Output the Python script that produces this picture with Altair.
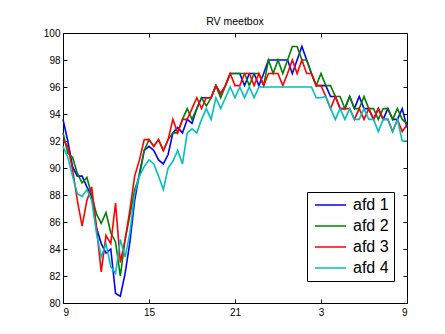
import altair as alt
import pandas as pd

# time grid (hours since 09:00, 20-minute steps over 24 h)
hours = [9 + i / 3 for i in range(73)]

series_names = ["afd 1", "afd 2", "afd 3", "afd 4"]
series_colors = ["#0000ff", "#008000", "#ff0000", "#00bfbf"]
x_ticks = [9, 15, 21, 27, 33]
y_ticks = [80, 82, 84, 86, 88, 90, 92, 94, 96, 98, 100]

afd1 = [93.6, 92.0, 90.1, 89.4, 89.4, 88.6, 87.9, 85.6, 84.4, 83.7, 84.0, 80.7, 80.5, 82.2, 84.5, 87.6, 89.6, 91.3, 91.6,
        91.3, 90.6, 90.3, 91.0, 92.6, 93.0, 92.6, 93.6, 93.3, 94.4, 95.2, 95.2, 95.2, 96.1, 95.5, 96.1, 97.0, 97.0,
        97.0, 96.1, 97.0, 97.0, 96.1, 97.0, 98.0, 98.0, 98.0, 98.0, 98.0, 97.0, 98.0, 99.0, 98.0, 97.0, 96.1, 96.1,
        96.1, 95.3, 95.3, 94.4, 94.4, 95.3, 94.4, 95.3, 94.4, 94.4, 93.6, 94.4, 93.6, 94.4, 93.6, 93.6, 94.4, 93.0]
afd2 = [92.6, 91.1, 90.8, 89.6, 88.9, 89.3, 88.0, 86.6, 85.9, 86.7, 85.2, 84.5, 82.0, 84.7, 86.5, 88.4, 89.4, 91.3, 92.1,
        91.6, 92.1, 91.3, 92.1, 92.6, 92.6, 93.6, 94.4, 93.6, 94.4, 95.2, 94.6, 95.2, 96.1, 95.2, 96.1, 97.0, 97.0,
        97.0, 97.0, 96.1, 97.0, 97.0, 96.1, 98.0, 97.0, 98.0, 97.0, 98.0, 99.0, 99.0, 98.0, 98.0, 97.0, 96.1, 97.0,
        96.1, 96.1, 95.3, 95.3, 94.4, 95.3, 94.4, 94.4, 95.3, 94.4, 94.4, 93.6, 94.4, 94.4, 93.6, 94.4, 93.6, 93.3]
afd3 = [92.1, 91.6, 89.9, 87.6, 85.7, 87.6, 88.6, 85.6, 82.3, 85.0, 84.4, 87.4, 83.0, 84.7, 86.9, 89.4, 90.6, 92.1, 92.1,
        91.6, 92.1, 91.3, 92.1, 93.6, 92.6, 93.6, 93.6, 94.4, 95.2, 94.4, 95.2, 95.2, 96.1, 95.5, 96.1, 97.0, 96.1,
        96.1, 97.0, 97.0, 96.1, 97.0, 96.1, 97.0, 97.0, 97.0, 96.1, 97.0, 98.0, 97.0, 98.0, 97.0, 97.0, 96.1, 96.1,
        95.3, 94.4, 95.3, 94.4, 94.4, 94.4, 93.6, 94.4, 93.6, 94.4, 93.6, 94.4, 93.6, 93.6, 92.7, 93.6, 92.7, 93.2]
afd4 = [91.6, 90.8, 89.4, 88.1, 87.9, 88.4, 87.6, 85.2, 83.4, 84.4, 82.7, 82.2, 84.7, 83.4, 85.2, 88.1, 89.4, 90.1, 90.6,
        90.3, 89.4, 88.4, 90.0, 90.5, 91.3, 90.3, 92.6, 92.9, 92.6, 93.6, 94.4, 93.6, 95.2, 94.4, 95.2, 96.0, 95.2,
        96.0, 95.2, 96.0, 95.2, 96.0, 96.0, 96.0, 96.0, 96.0, 96.0, 96.0, 96.0, 96.0, 96.0, 96.0, 96.0, 95.2, 95.2,
        95.3, 94.4, 93.6, 94.4, 93.6, 94.4, 93.6, 93.6, 94.4, 93.6, 93.6, 92.7, 93.6, 93.6, 92.7, 93.6, 92.0, 92.0]

rows = []
for name, vals in zip(series_names, [afd1, afd2, afd3, afd4]):
    for h, v in zip(hours, vals):
        rows.append({"t": h, "rv": v, "afd": name})
df = pd.DataFrame(rows)

FONT = "Liberation Sans"
xscale = alt.Scale(domain=[9, 33], nice=False, zero=False)
yscale = alt.Scale(domain=[80, 100], nice=False, zero=False)
label_expr = "'' + (datum.value % 24)"

base = alt.Chart(df)

lines = base.mark_line(strokeWidth=1.6).encode(
    x=alt.X("t:Q", scale=xscale,
            axis=alt.Axis(orient="bottom", values=x_ticks, labelExpr=label_expr, tickSize=0, title=None,
                          grid=False, domainColor="black", labelPadding=4, labelFontSize=10,
                          labelFont=FONT, labelColor="black")),
    y=alt.Y("rv:Q", scale=yscale,
            axis=alt.Axis(orient="left", values=y_ticks, tickSize=0, title=None, grid=False,
                          domainColor="black", labelPadding=3, labelFontSize=10,
                          labelFont=FONT, labelColor="black")),
    color=alt.Color("afd:N", scale=alt.Scale(domain=series_names, range=series_colors),
                    legend=alt.Legend(orient="none", legendX=244, legendY=159, title=None,
                                      strokeColor="black", fillColor="white", padding=5,
                                      symbolType="M-1,0H5.2", symbolSize=100, symbolStrokeWidth=1.5,
                                      labelFontSize=16, labelFont=FONT, labelColor="black",
                                      rowPadding=5, labelOffset=25, cornerRadius=0)),
)

ticks_a = base.mark_line(opacity=0).encode(
    x=alt.X("t:Q", scale=xscale,
            axis=alt.Axis(orient="bottom", values=x_ticks, labels=False, domain=False, tickSize=4,
                          offset=-4, title=None, grid=False, tickColor="black")),
    y=alt.Y("rv:Q", scale=yscale,
            axis=alt.Axis(orient="left", values=y_ticks, labels=False, domain=False, tickSize=4,
                          offset=-4, title=None, grid=False, tickColor="black")),
    detail="afd:N",
)

ticks_b = base.mark_line(opacity=0).encode(
    x=alt.X("t:Q", scale=xscale,
            axis=alt.Axis(orient="top", values=x_ticks, labels=False, domain=False, tickSize=4,
                          offset=-4, title=None, grid=False, tickColor="black")),
    y=alt.Y("rv:Q", scale=yscale,
            axis=alt.Axis(orient="right", values=y_ticks, labels=False, domain=False, tickSize=4,
                          offset=-4, title=None, grid=False, tickColor="black")),
    detail="afd:N",
)

chart = alt.layer(lines, ticks_a, ticks_b).resolve_axis(
    x="independent", y="independent"
).properties(
    width=344,
    height=270,
    title=alt.Title("RV meetbox", fontSize=10.5, font=FONT, fontWeight="normal", offset=1, color="black"),
    autosize=alt.AutoSizeParams(type="none"),
    padding={"left": 55, "top": 25, "right": 30, "bottom": 25},
).configure_view(stroke="black", strokeWidth=1)

chart.save("out.html", embed_options={"renderer": "svg", "actions": False})
